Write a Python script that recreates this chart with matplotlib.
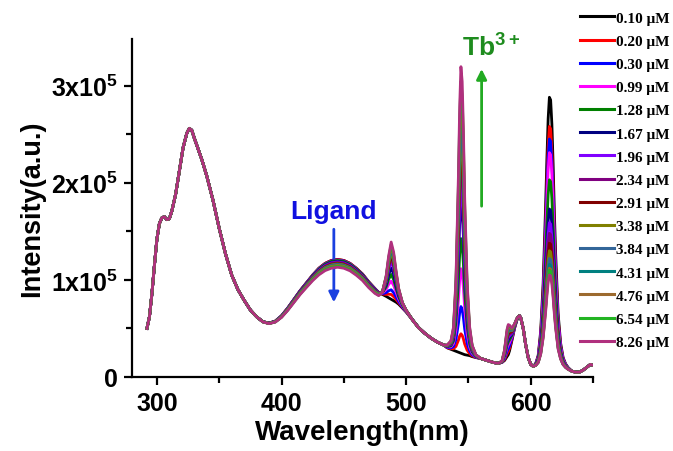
import matplotlib
matplotlib.use("Agg")
import matplotlib.pyplot as plt
import numpy as np
from matplotlib.ticker import FuncFormatter, MultipleLocator

plt.rcParams['font.family'] = ['Liberation Sans', 'DejaVu Sans']
plt.rcParams['font.weight'] = 'bold'
plt.rcParams['mathtext.fontset'] = 'custom'
plt.rcParams['mathtext.rm'] = 'Liberation Sans:bold'
plt.rcParams['mathtext.bf'] = 'Liberation Sans:bold'
plt.rcParams['mathtext.sf'] = 'Liberation Sans:bold'
plt.rcParams['mathtext.default'] = 'rm'

# ---------------- data (intensity in units of 1e5) ----------------
concentrations = ['0.10', '0.20', '0.30', '0.99', '1.28', '1.67', '1.96', '2.34',
                  '2.91', '3.38', '3.84', '4.31', '4.76', '6.54', '8.26']
colors = ['#000000', '#FF0000', '#0000FF', '#FF00FF', '#008000', '#000080',
          '#8000FF', '#800080', '#800000', '#808000', '#336699', '#008080',
          '#9C6A2E', '#22B422', '#B0307E']

wavelength = [292, 294, 296, 298, 300, 302, 304, 306, 308, 310,
              312, 315, 318, 321, 324, 326, 328, 330, 333, 336, 340,
              345, 350, 355, 360, 365, 370, 375, 380, 385, 390, 395, 400,
              405, 410, 415, 420, 425, 430, 435, 440, 445, 450, 455, 460,
              465, 470, 475, 478, 481, 484, 486, 488, 490, 492, 494, 497,
              500, 505, 510, 515, 520, 525, 530, 533, 536, 538, 540, 542,
              543, 544, 545, 546, 547, 549, 551, 553, 556, 560, 565, 570,
              574, 577, 579, 581, 582, 583, 585, 587, 589, 590, 591, 592,
              594, 596, 598, 600, 602, 604, 606, 608, 610, 612, 613, 614,
              615, 616, 617, 618, 619, 620, 622, 624, 626, 628, 630, 633,
              636, 639, 642, 645, 648, 650]

# common ligand/background emission (0.10 uM curve without Eu 615 band)
base = [0.50, 0.62, 0.86, 1.15, 1.42, 1.58, 1.64, 1.65, 1.62, 1.63,
        1.71, 1.88, 2.12, 2.36, 2.51, 2.56, 2.54, 2.46, 2.35, 2.24, 2.07,
        1.82, 1.53, 1.27, 1.05, 0.90, 0.79, 0.69, 0.62, 0.57, 0.555, 0.575, 0.63,
        0.71, 0.80, 0.89, 0.97, 1.05, 1.12, 1.17, 1.20, 1.21, 1.20, 1.17, 1.12,
        1.06, 0.98, 0.91, 0.87, 0.85, 0.83, 0.815, 0.80, 0.785, 0.77, 0.75, 0.71,
        0.67, 0.59, 0.51, 0.45, 0.40, 0.36, 0.33, 0.30, 0.285, 0.275, 0.265, 0.255,
        0.25, 0.245, 0.24, 0.235, 0.23, 0.225, 0.22, 0.21, 0.20, 0.19, 0.17, 0.15,
        0.14, 0.15, 0.17, 0.21, 0.23, 0.27, 0.38, 0.50, 0.59, 0.62, 0.63, 0.61,
        0.50, 0.33, 0.20, 0.13, 0.11, 0.11, 0.11, 0.11, 0.11, 0.11, 0.11, 0.11,
        0.11, 0.11, 0.11, 0.11, 0.11, 0.11, 0.10, 0.10, 0.09, 0.08, 0.07, 0.06,
        0.05, 0.05, 0.07, 0.10, 0.13, 0.12]

# band shapes (normalised)
ligand_band = {385: 0.03, 390: 0.07, 395: 0.12, 400: 0.2, 405: 0.3, 410: 0.4, 415: 0.5,
               420: 0.6, 425: 0.72, 430: 0.85, 435: 0.93, 440: 1.0, 445: 1.0,
               450: 1.0, 455: 0.96, 460: 0.9, 465: 0.83, 470: 0.75, 475: 0.62,
               478: 0.56, 481: 0.5, 484: 0.45, 486: 0.41, 488: 0.38, 490: 0.34,
               492: 0.31, 494: 0.28, 497: 0.23, 500: 0.18, 505: 0.1, 510: 0.05}
tb490 = {478: 0.02, 481: 0.10, 484: 0.40, 486: 0.75, 488: 1.0, 490: 0.85,
         492: 0.55, 494: 0.30, 497: 0.12, 500: 0.05, 505: 0.01}
tb545 = {533: 0.01, 536: 0.03, 538: 0.08, 540: 0.25, 542: 0.62, 543: 0.86, 544: 1.0,
         545: 0.95, 546: 0.78, 547: 0.55, 549: 0.25, 551: 0.10, 553: 0.04, 556: 0.01}
tb582 = {577: 0.05, 579: 0.35, 581: 0.9, 582: 1.0, 583: 0.85, 585: 0.4,
         587: 0.15, 589: 0.05}
eu615 = {604: 0.01, 606: 0.04, 608: 0.13, 610: 0.31, 612: 0.60, 613: 0.77,
         614: 0.92, 615: 1.0, 616: 0.99, 617: 0.90, 618: 0.75, 619: 0.57,
         620: 0.42, 622: 0.20, 624: 0.09, 626: 0.04, 628: 0.02, 630: 0.01}

# per-concentration heights
ligand_drop = [0.0, 0.0, 0.005, 0.01, 0.01, 0.02, 0.025, 0.03, 0.04, 0.045,
               0.05, 0.055, 0.06, 0.07, 0.08]
h490 = [0.0, 0.05, 0.10, 0.19, 0.26, 0.33, 0.40, 0.44, 0.47, 0.50, 0.53, 0.55, 0.57, 0.59, 0.62]
h545 = [0.0, 0.20, 0.48, 0.87, 1.18, 1.55, 1.72, 1.95, 2.10, 2.25, 2.40, 2.55, 2.68, 2.80, 2.95]
h582 = [0.0, 0.03, 0.06, 0.10, 0.13, 0.16, 0.18, 0.20, 0.22, 0.24, 0.25, 0.27, 0.28, 0.30, 0.31]
h615 = [2.77, 2.47, 2.34, 2.20, 1.92, 1.62, 1.48, 1.37, 1.27, 1.19, 1.11, 1.05, 1.01, 0.99, 0.94]

# ---------------- figure ----------------
fig = plt.figure(figsize=(6.73, 4.52), dpi=100)
ax = fig.add_axes([132 / 673, 1 - 378 / 452, (593 - 132) / 673, (378 - 40) / 452])

w = np.array(wavelength, dtype=float)
b = np.array(base)
def shape(d):
    return np.array([d.get(x, 0.0) for x in wavelength])
s_lig, s490, s545, s582, s615 = (shape(ligand_band), shape(tb490), shape(tb545),
                                 shape(tb582), shape(eu615))

for i, c in enumerate(concentrations):
    y = (b - ligand_drop[i] * s_lig + h490[i] * s490 + h545[i] * s545
         + h582[i] * s582 + h615[i] * s615) * 1e5
    ax.plot(w, y, color=colors[i], lw=2, label=c + ' \u03bcM', zorder=2 + i)

ax.set_xlim(280, 650)
ax.set_ylim(0, 3.48e5)
ax.xaxis.set_major_locator(MultipleLocator(100))
ax.xaxis.set_minor_locator(MultipleLocator(50))
ax.yaxis.set_major_locator(MultipleLocator(1e5))
ax.yaxis.set_minor_locator(MultipleLocator(0.5e5))

def yfmt(v, pos):
    if abs(v) < 1:
        return '0'
    return '%dx10$^{\\mathsf{5}}$' % round(v / 1e5)
ax.yaxis.set_major_formatter(FuncFormatter(yfmt))

for sp in ['top', 'right']:
    ax.spines[sp].set_visible(False)
for sp in ['left', 'bottom']:
    ax.spines[sp].set_linewidth(1.6)
ax.tick_params(which='major', direction='out', length=6, width=1.6, labelsize=18, pad=4)
ax.tick_params(which='minor', direction='out', length=4, width=1.6)
for lab in ax.get_xticklabels() + ax.get_yticklabels():
    lab.set_fontweight('bold')

ax.set_xlabel('Wavelength(nm)', fontsize=20, fontweight='bold', labelpad=3)
ax.set_ylabel('Intensity(a.u.)', fontsize=19.5, fontweight='bold', labelpad=4)

# annotations
ax.text(442, 1.71e5, 'Ligand', color='#1010E0', fontsize=19, fontweight='bold',
        ha='center', va='center')
ax.annotate('', xy=(442, 0.74e5), xytext=(442, 1.55e5),
            arrowprops=dict(arrowstyle='-|>', color='#1A40E0', lw=2,
                            mutation_scale=15))
ax.text(545, 3.40e5, 'Tb$^{3+}$', color='#1E8C1E', fontsize=19, fontweight='bold',
        ha='left', va='center')
ax.annotate('', xy=(560.6, 3.2e5), xytext=(560.6, 1.73e5),
            arrowprops=dict(arrowstyle='-|>', color='#22AA22', lw=2,
                            mutation_scale=15))

leg = fig.legend(loc='upper left', bbox_to_anchor=(574 / 673, 1 - 6 / 452),
                 frameon=False, prop={'family': 'Liberation Serif', 'weight': 'bold', 'size': 11},
                 handlelength=2.2, handletextpad=0.15, labelspacing=0.62, borderaxespad=0)
for line in leg.get_lines():
    line.set_linewidth(2.2)

fig.savefig('out.png', dpi=100)
